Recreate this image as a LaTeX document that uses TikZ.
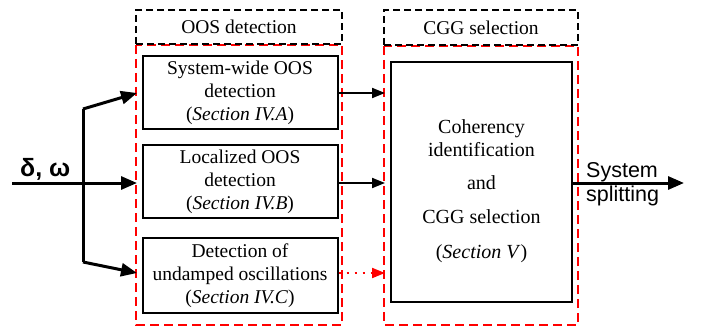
\documentclass[tikz,border=0pt]{standalone}
\usepackage{fontspec}
\setmainfont{Liberation Serif}
\setsansfont{Liberation Sans}
\usetikzlibrary{arrows.meta}
\begin{document}
\begin{tikzpicture}[x=1pt,y=-1pt,
  blk/.style={draw=black,line width=2pt,fill=white,align=center,inner sep=0pt,font=\fontsize{19.5}{23}\selectfont},
  hdr/.style={draw=black,dash pattern=on 7pt off 4pt,line width=1.8pt,inner sep=0pt,font=\fontsize{19.5}{22}\selectfont},
  grp/.style={draw=red,dash pattern=on 9pt off 5pt,line width=2pt},
  arr/.style={line width=3pt,-{Triangle[length=16pt,width=13pt]}},
  thin/.style={line width=2pt,-{Triangle[length=13pt,width=10pt]}}
]
\useasboundingbox (0,0) rectangle (702,329);
% group frames
\draw[grp] (136,45) rectangle (342,325);
\draw[grp] (384,46) rectangle (578,325);
\node[hdr,minimum width=206pt,minimum height=34pt] (h1) at (239,27) {OOS detection};
\node[hdr,minimum width=194pt,minimum height=35pt] (h2) at (481,27.5) {CGG selection};
% boxes
\node[blk,minimum width=195pt,minimum height=73pt] (b1) at (240,92.5) {System-wide OOS\\detection\\(\textit{Section IV.A})};
\node[blk,minimum width=195pt,minimum height=73pt] (b2) at (240,181.5) {Localized OOS\\detection\\(\textit{Section IV.B})};
\node[blk,minimum width=195pt,minimum height=75pt] (b3) at (240,275.5) {Detection of\\undamped oscillations\\(\textit{Section IV.C})};
\node[draw=black,line width=2pt,minimum width=181pt,minimum height=240pt,inner sep=0pt] (c) at (481.5,182) {};
\node[align=center,font=\fontsize{20}{23}\selectfont] (ct) at (481.5,138) {Coherency\\identification};
\node[font=\fontsize{20}{22}\selectfont] (ca) at (481.5,183) {and};
\node[align=center,font=\fontsize{20}{35}\selectfont] (cb) at (481.5,236.5) {CGG selection\\(\textit{Section V})};
% input
\coordinate (in) at (12,183);
\coordinate (br) at (83,183);
\coordinate (bt) at (83,109);
\coordinate (bb) at (83,262);
\coordinate (t1) at (137,93);
\coordinate (t2) at (137,183);
\coordinate (t3) at (137,273);
\draw[line width=3pt] (bt) -- (bb);
\draw[arr] (in) -- (t2);
\draw[arr] (bt) -- (t1);
\draw[arr] (bb) -- (t3);
\node[font=\sffamily\bfseries\fontsize{25}{28}\selectfont,anchor=base west,inner sep=0pt] (lab) at (20,176) {δ, ω};
% connectors to right
\coordinate (r1) at (385,93);
\coordinate (r2) at (385,183);
\coordinate (r3) at (385,273);
\draw[thin] (b1.east |- r1) -- (r1);
\draw[thin] (b2.east |- r2) -- (r2);
\draw[red,line width=2pt,dash pattern=on 2pt off 6pt,-{Triangle[length=13pt,width=10pt,fill=red]}] (b3.east |- r3) -- (r3);
% output
\coordinate (out) at (684,183);
\draw[arr] (c.east |- out) -- (out);
\node[font=\sffamily\fontsize{21.5}{24}\selectfont,align=left,anchor=west,inner sep=0pt] (sys) at (586,184) {System\\splitting};
\end{tikzpicture}
\end{document}
